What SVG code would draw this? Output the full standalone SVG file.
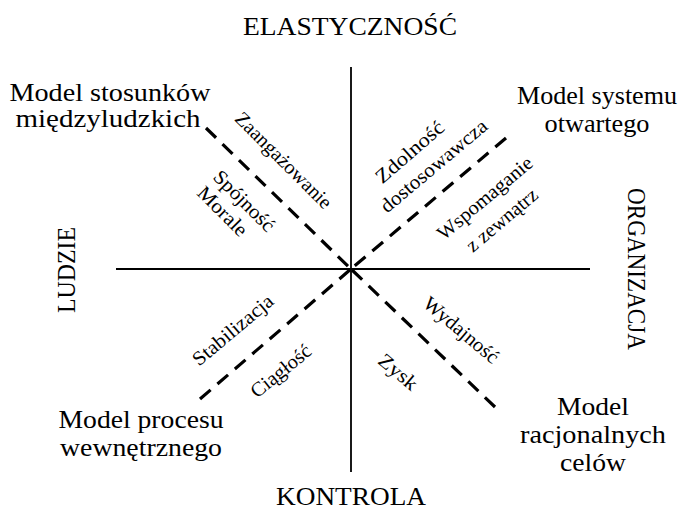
<svg xmlns="http://www.w3.org/2000/svg" width="689" height="521" viewBox="0 0 689 521">
<style>
text{font-family:'Liberation Serif','Times New Roman',serif;fill:#000;}
.big{font-size:25px;text-anchor:middle;}
.sm{font-size:20px;text-anchor:middle;}
.st{font-size:20px;text-anchor:start;}
.axis{stroke:#000;stroke-width:1.8;fill:none;}
.dash{stroke:#000;stroke-width:3.2;fill:none;stroke-dasharray:14 9;}
</style>
<rect width="689" height="521" fill="#fff"/>
<g id="connectors">
<line class="axis" x1="351" y1="67" x2="351" y2="472"/>
<line class="axis" x1="116" y1="269" x2="590" y2="269"/>
<line class="dash" x1="206" y1="128" x2="351" y2="269"/>
<line class="dash" x1="506" y1="138" x2="351" y2="269"/>
<line class="dash" x1="200" y1="399" x2="351" y2="269"/>
<line class="dash" x1="495" y1="407" x2="351" y2="269"/>
</g>
<g id="axis-top"><text class="big" x="350" y="35" textLength="214" lengthAdjust="spacingAndGlyphs">ELASTYCZNOŚĆ</text></g>
<g id="axis-bottom"><text class="big" x="351" y="505" textLength="150" lengthAdjust="spacingAndGlyphs">KONTROLA</text></g>
<g id="axis-left"><text class="big" transform="translate(75,270) rotate(-90)" x="0" y="0" textLength="86" lengthAdjust="spacingAndGlyphs">LUDZIE</text></g>
<g id="axis-right"><text class="big" transform="translate(628,269) rotate(90)" x="0" y="0" textLength="162" lengthAdjust="spacingAndGlyphs">ORGANIZACJA</text></g>
<g id="model-tl">
<text class="big" x="110" y="101" textLength="201" lengthAdjust="spacingAndGlyphs">Model stosunków</text>
<text class="big" x="108" y="127" textLength="185" lengthAdjust="spacingAndGlyphs">międzyludzkich</text>
</g>
<g id="model-tr">
<text class="big" x="597" y="104" textLength="160" lengthAdjust="spacingAndGlyphs">Model systemu</text>
<text class="big" x="597" y="132" textLength="105" lengthAdjust="spacingAndGlyphs">otwartego</text>
</g>
<g id="model-bl">
<text class="big" x="141" y="428" textLength="165" lengthAdjust="spacingAndGlyphs">Model procesu</text>
<text class="big" x="141" y="456" textLength="162" lengthAdjust="spacingAndGlyphs">wewnętrznego</text>
</g>
<g id="model-br">
<text class="big" x="593" y="415" textLength="72" lengthAdjust="spacingAndGlyphs">Model</text>
<text class="big" x="593" y="443" textLength="146" lengthAdjust="spacingAndGlyphs">racjonalnych</text>
<text class="big" x="593" y="471" textLength="66" lengthAdjust="spacingAndGlyphs">celów</text>
</g>
<g id="labels-tl">
<text class="sm" transform="translate(279,165) rotate(45)" textLength="128" lengthAdjust="spacingAndGlyphs">Zaangażowanie</text>
<text class="st" transform="translate(212,178) rotate(45)" textLength="78" lengthAdjust="spacingAndGlyphs">Spójność</text>
<text class="st" transform="translate(196,194) rotate(45)" textLength="62" lengthAdjust="spacingAndGlyphs">Morale</text>
</g>
<g id="labels-tr">
<text class="sm" transform="translate(414,157) rotate(-41)" textLength="84" lengthAdjust="spacingAndGlyphs">Zdolność</text>
<text class="sm" transform="translate(438,171) rotate(-40)" textLength="133" lengthAdjust="spacingAndGlyphs">dostosowawcza</text>
<text class="sm" transform="translate(489,203) rotate(-40)" textLength="118" lengthAdjust="spacingAndGlyphs">Wspomaganie</text>
<text class="sm" transform="translate(506,225) rotate(-40)" textLength="87" lengthAdjust="spacingAndGlyphs">z zewnątrz</text>
</g>
<g id="labels-bl">
<text class="sm" transform="translate(237,335) rotate(-40)" textLength="99" lengthAdjust="spacingAndGlyphs">Stabilizacja</text>
<text class="sm" transform="translate(285,376) rotate(-39)" textLength="72" lengthAdjust="spacingAndGlyphs">Ciągłość</text>
</g>
<g id="labels-br">
<text class="sm" transform="translate(457,335) rotate(40)" textLength="92" lengthAdjust="spacingAndGlyphs">Wydajność</text>
<text class="sm" transform="translate(394,377) rotate(40)" textLength="45" lengthAdjust="spacingAndGlyphs">Zysk</text>
</g>
</svg>
